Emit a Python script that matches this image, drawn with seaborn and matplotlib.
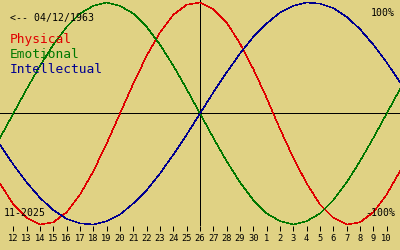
import matplotlib
matplotlib.use("Agg")
import matplotlib.pyplot as plt
import seaborn as sns
import pandas as pd

# ---- data ----
birth_label = "<-- 04/12/1963"
month_label = "11-2025"
offsets = list(range(-15, 16))  # days relative to 26 Nov 2025
physical = [-0.63, -0.82, -0.94, -1.00, -0.98, -0.89, -0.73, -0.52, -0.27, 0.00,
            0.27, 0.52, 0.73, 0.89, 0.98, 1.00, 0.94, 0.82, 0.63, 0.40,
            0.14, -0.14, -0.40, -0.63, -0.82, -0.94, -1.00, -0.98, -0.89, -0.73, -0.52]
emotional = [-0.22, 0.00, 0.22, 0.43, 0.62, 0.78, 0.90, 0.97, 1.00, 0.97,
             0.90, 0.78, 0.62, 0.43, 0.22, 0.00, -0.22, -0.43, -0.62, -0.78,
             -0.90, -0.97, -1.00, -0.97, -0.90, -0.78, -0.62, -0.43, -0.22, 0.00, 0.22]
intellectual = [-0.28, -0.46, -0.62, -0.76, -0.87, -0.95, -0.99, -1.00, -0.97, -0.91,
                -0.81, -0.69, -0.54, -0.37, -0.19, 0.00, 0.19, 0.37, 0.54, 0.69,
                0.81, 0.91, 0.97, 1.00, 0.99, 0.95, 0.87, 0.76, 0.62, 0.46, 0.28]
tick_offsets = list(range(-14, 15))
tick_labels = [str(d) for d in range(12, 31)] + [str(d) for d in range(1, 11)]
series_names = ["Physical", "Emotional", "Intellectual"]
series_colors = ["#e00000", "#007800", "#000090"]

BG = "#e0d284"
MONO = "DejaVu Sans Mono"
LW = 0.72

df = pd.DataFrame({"offset": offsets * 3,
                   "value": physical + emotional + intellectual,
                   "series": [s for s in series_names for _ in offsets]})

W, H = 400, 250
fig = plt.figure(figsize=(W / 100, H / 100), dpi=100, facecolor=BG)
ax = fig.add_axes([0, 24 / H, 1, 226 / H])
ax.set_facecolor(BG)

sns.lineplot(data=df, x="offset", y="value", hue="series",
             palette=dict(zip(series_names, series_colors)),
             linewidth=0.35, legend=False, ax=ax, sort=False)
for ln in ax.lines:
    ln.set_antialiased(False)

ax.axhline(0, color="black", lw=LW, antialiased=False, zorder=1)
ax.axvline(0, color="black", lw=LW, antialiased=False, zorder=1)

ax.set_xlim(-15, 15)
ax.set_ylim(-1.0135, 1.0225)
for s in ax.spines.values():
    s.set_visible(False)
ax.set_xlabel("")
ax.set_ylabel("")
ax.set_yticks([])
ax.set_xticks(tick_offsets)
ax.set_xticklabels(tick_labels, fontfamily=MONO, fontsize=6.3)
ax.tick_params(axis="x", direction="out", length=3.6, width=LW, color="black",
               pad=2.3, labelcolor="black")


def ftext(x, y, s, **kw):
    fig.text(x / W, 1 - y / H, s, fontfamily=MONO, va="baseline", **kw)


ftext(10, 21, birth_label, fontsize=7.1, color="black")
for i, (name, col) in enumerate(zip(series_names, series_colors)):
    ftext(10, 43 + 15 * i, name, fontsize=9.3, color=col)
ftext(395, 16, "100%", fontsize=7.1, color="black", ha="right")
ftext(395, 216, "-100%", fontsize=7.1, color="black", ha="right")
ftext(4, 216, month_label, fontsize=7.1, color="black")

fig.savefig("out.png", dpi=100, facecolor=BG)
